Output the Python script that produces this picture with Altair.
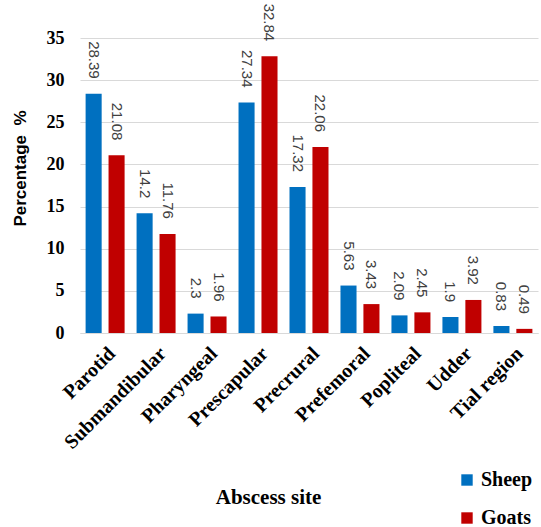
import altair as alt
import pandas as pd

sites = ["Parotid", "Submandibular", "Pharyngeal", "Prescapular", "Precrural",
         "Prefemoral", "Popliteal", "Udder", "Tial region"]
sheep = [28.39, 14.2, 2.3, 27.34, 17.32, 5.63, 2.09, 1.9, 0.83]
goats = [21.08, 11.76, 1.96, 32.84, 22.06, 3.43, 2.45, 3.92, 0.49]
series = ["Sheep", "Goats"]
colors = ["#0070C0", "#C00000"]
y_ticks = [0, 5, 10, 15, 20, 25, 30, 35]

SERIF = "Liberation Serif"
SANS = "Liberation Sans"

rows = []
for i, s in enumerate(sites):
    rows.append({"site": s, "animal": "Sheep", "value": sheep[i], "label": str(sheep[i])})
    rows.append({"site": s, "animal": "Goats", "value": goats[i], "label": str(goats[i])})
df = pd.DataFrame(rows)

base = alt.Chart(df).encode(
    x=alt.X("site:N", sort=sites,
            scale=alt.Scale(paddingInner=0.235, paddingOuter=0.11),
            axis=alt.Axis(title="Abscess site", titleFont=SERIF, titleFontSize=21,
                          titleFontWeight="bold", titleColor="black",
                          titleX=188, titleY=164, titleAlign="center", titleBaseline="middle",
                          labelAngle=315, labelAlign="right", labelBaseline="top",
                          labelPadding=10, labelFont=SERIF, labelFontWeight="bold",
                          labelFontSize=20, labelColor="black", ticks=False,
                          domainColor="#d9d9d9", grid=False, labelOverlap=False,
                          labelLimit=300)),
    xOffset=alt.XOffset("animal:N", sort=series,
                        scale=alt.Scale(paddingInner=0.3, paddingOuter=0)),
    y=alt.Y("value:Q", scale=alt.Scale(domain=[0, 35], nice=False),
            axis=alt.Axis(values=y_ticks, title="Percentage\u00a0\u00a0%",
                          titleFont=SANS, titleFontSize=17, titleFontWeight="bold",
                          titleColor="black", titleX=-60, titleY=130, titleAngle=270,
                          titleAlign="center", titleBaseline="middle",
                          labelFont=SERIF, labelFontWeight="bold", labelFontSize=18,
                          labelColor="black", labelPadding=16, ticks=False, domain=False,
                          grid=True, gridColor="#d9d9d9", gridWidth=1)),
)

bars = base.mark_bar().encode(
    color=alt.Color("animal:N", sort=series,
                    scale=alt.Scale(domain=series, range=colors),
                    legend=alt.Legend(title=None, orient="none", legendX=377, legendY=432,
                                      direction="vertical", symbolType="square", symbolSize=130,
                                      symbolStrokeWidth=0, labelFont=SERIF,
                                      labelFontWeight="bold", labelFontSize=20, labelColor="black",
                                      rowPadding=18, labelOffset=4))
)

labels = base.mark_text(angle=90, align="right", baseline="middle", dx=-15,
                        font=SANS, fontSize=15, color="#404040").encode(
    text=alt.Text("label:N")
)

chart = (bars + labels).properties(
    width=458, height=295,
    padding={"left": 80, "top": 38, "right": 3, "bottom": 194},
    autosize=alt.AutoSizeParams(type="none"),
    background="white",
).configure_view(stroke=None).configure_legend(labelFont=SERIF).configure_axis(labelFont=SERIF)

chart.save("out.html", embed_options={"renderer": "svg", "actions": False})
